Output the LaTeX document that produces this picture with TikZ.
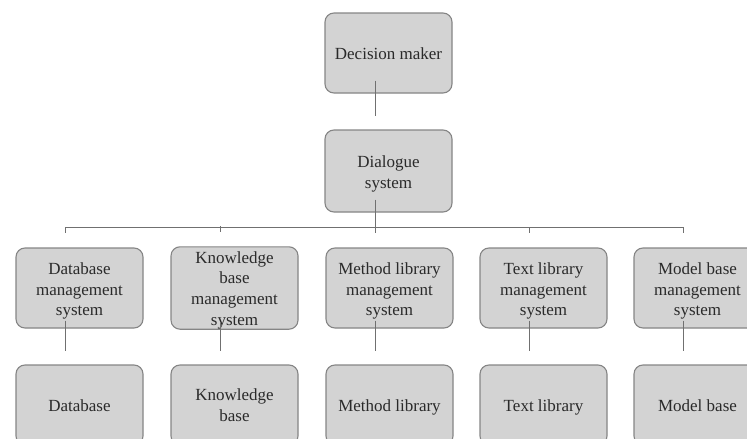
\documentclass[tikz,border=0pt]{standalone}
\usepackage{fontspec}
\setmainfont{Liberation Serif}
\newfontfamily\boxfont{Liberation Serif}
\definecolor{boxfill}{HTML}{D3D3D3}
\definecolor{boxedge}{HTML}{858585}
\definecolor{linkc}{HTML}{707070}
\definecolor{txt}{HTML}{2A2A2A}
\newcommand\bxt[2]{\raisebox{#1}[\height][\depth]{\begin{tabular}{@{}c@{}}#2\end{tabular}}}
\begin{document}
\begin{tikzpicture}[x=1pt,y=-1pt,
  box/.style={draw=boxedge,line width=1.1pt,fill=boxfill,rounded corners=9pt,
    minimum width=127pt,minimum height=80pt,inner sep=0pt,
    text=txt,font=\boxfont\fontsize{17}{20.6}\selectfont},
  link/.style={draw=linkc,line width=0.9pt}]
\useasboundingbox (0,0) rectangle (747,439);
\clip (0,0) rectangle (747,439);
% top
\node[box] (dm) at (388.5,53) {\bxt{-2pt}{Decision maker}};
\node[box,minimum height=82pt] (dlg) at (388.5,171) {\bxt{-3pt}{Dialogue\\system}};
% management row
\node[box] (m1) at (79.5,288) {\bxt{-3pt}{Database\\management\\system}};
\node[box] (m2) at (234.5,288) {\bxt{-2pt}{Knowledge\\base\\management\\system}};
\node[box] (m3) at (389.5,288) {\bxt{-3pt}{Method library\\management\\system}};
\node[box] (m4) at (543.5,288) {\bxt{-3pt}{Text library\\management\\system}};
\node[box] (m5) at (697.5,288) {\bxt{-3pt}{Model base\\management\\system}};
% base row
\node[box] (b1) at (79.5,405) {\bxt{-2pt}{Database}};
\node[box] (b2) at (234.5,405) {\bxt{-2pt}{Knowledge\\base}};
\node[box] (b3) at (389.5,405) {\bxt{-2pt}{Method library}};
\node[box] (b4) at (543.5,405) {\bxt{-2pt}{Text library}};
\node[box] (b5) at (697.5,405) {\bxt{-2pt}{Model base}};
% connectors
\coordinate (dmA) at ([xshift=-13.5pt,yshift=13pt]dm.south);
\coordinate (dmB) at ([xshift=-13.5pt,yshift=13pt]dlg.north);
\draw[link] (dmA) -- (dmB);
\coordinate (dlA) at ([xshift=-13.5pt,yshift=13pt]dlg.south);
\coordinate (bus) at ([xshift=-13.5pt,yshift=-16pt]dlg.south);
\draw[link] (dlA) -- (bus);
\foreach \i in {1,...,5}{
  \coordinate (t\i) at ([xshift=-14.5pt,yshift=14pt]m\i.north);
  \coordinate (h\i) at ([xshift=-14.5pt,yshift=20pt]m\i.north);
  \coordinate (mA\i) at ([xshift=-14.5pt,yshift=8pt]m\i.south);
  \coordinate (mB\i) at ([xshift=-14.5pt,yshift=13pt]b\i.north);
  \draw[link] (mA\i) -- (mB\i);
  \draw[link] (h\i) -- (t\i);
}
\draw[link] (h1) -- (h5);
\end{tikzpicture}
\end{document}
